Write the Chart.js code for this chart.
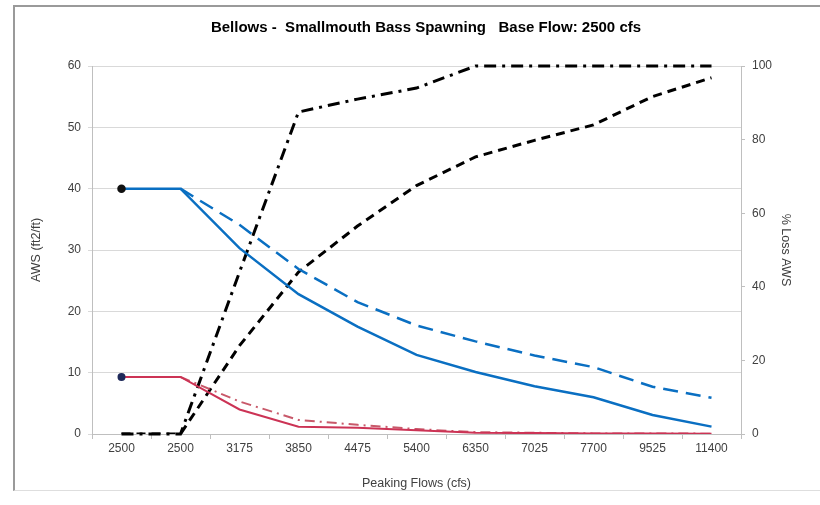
<!DOCTYPE html>
<html>
<head>
<meta charset="utf-8">
<script src="https://cdn.jsdelivr.net/npm/chart.js@4"></script>
<style>
  body { margin: 0; background: #fff; }
  #wrap { position: relative; width: 820px; height: 505px; overflow: hidden; }
  #frame { position: absolute; left: 13px; top: 5px; width: 900px; height: 483px;
           border-top: 2px solid #9a9a9a; border-left: 2px solid #9a9a9a; border-bottom: 1px solid #dedede; }
  canvas { position: absolute; left: 0; top: 0; }
</style>
</head>
<body>
<div id="wrap">
  <div id="frame"></div>
  <canvas id="grafico" width="820" height="505"></canvas>
</div>
<script>
// Categorias do eixo x (vazões de pico)
var categorias = ["2500", "2500", "3175", "3850", "4475", "5400", "6350", "7025", "7700", "9525", "11400"];

// AWS (ft2/ft) - eixo esquerdo
var awsAzul = [40, 40, 30.3, 22.8, 17.5, 12.9, 10.1, 7.8, 6.0, 3.1, 1.2];
var awsAzulTracejado = [null, 40, 34.1, 26.9, 21.5, 17.7, 15.1, 12.8, 10.9, 7.7, 5.9];
var awsVermelho = [9.3, 9.3, 4.0, 1.2, 1.0, 0.6, 0.2, 0.15, 0.1, 0.1, 0.05];
var awsVermelhoTracoPonto = [null, 9.3, 5.3, 2.3, 1.5, 0.8, 0.3, 0.2, 0.1, 0.1, 0.05];

// % Loss AWS - eixo direito
var perdaTracejado = [0, 0, 24, 44, 56.5, 67.5, 75.3, 79.8, 84, 91.7, 96.8];
var perdaTracoPonto = [0, 0, 44, 87.5, 91, 94, 100, 100, 100, 100, 100];

var fonte = "'Liberation Sans', Arial, sans-serif";
var corTicks = "#404040";

function marcadorInicial(n) {
  var r = [];
  for (var i = 0; i < n; i++) r.push(i === 0 ? 3 : 0);
  return r;
}

var ctx = document.getElementById("grafico").getContext("2d");

new Chart(ctx, {
  type: "line",
  data: {
    labels: categorias,
    datasets: [
      {
        label: "AWS",
        data: awsAzul,
        yAxisID: "y",
        borderColor: "#0a6fc2",
        borderWidth: 2.5,
        tension: 0,
        pointRadius: marcadorInicial(awsAzul.length),
        pointBackgroundColor: "#111",
        pointBorderColor: "#111",
      },
      {
        label: "AWS 2",
        data: awsAzulTracejado,
        yAxisID: "y",
        borderColor: "#0a6fc2",
        borderWidth: 2.5,
        borderDash: [15, 8],
        tension: 0,
        pointRadius: 0,
      },
      {
        label: "AWS red",
        data: awsVermelho,
        yAxisID: "y",
        borderColor: "#cc3355",
        borderWidth: 2,
        tension: 0,
        pointRadius: marcadorInicial(awsVermelho.length),
        pointBackgroundColor: "#1f2a5a",
        pointBorderColor: "#1f2a5a",
      },
      {
        label: "AWS red 2",
        data: awsVermelhoTracoPonto,
        yAxisID: "y",
        borderColor: "rgba(190,60,80,0.85)",
        borderWidth: 2,
        borderDash: [10, 5, 2, 5],
        tension: 0,
        pointRadius: 0,
      },
      {
        label: "% Loss",
        data: perdaTracejado,
        yAxisID: "y1",
        borderColor: "#000",
        borderWidth: 3,
        borderDash: [9, 6],
        tension: 0,
        pointRadius: 0,
      },
      {
        label: "% Loss 2",
        data: perdaTracoPonto,
        yAxisID: "y1",
        borderColor: "#000",
        borderWidth: 3,
        borderDash: [12, 6, 3, 6],
        tension: 0,
        pointRadius: 0,
        clip: false,
      },
    ],
  },
  options: {
    responsive: false,
    animation: false,
    events: [],
    layout: {
      padding: { left: 14, right: -18, top: 5, bottom: 0 },
    },
    plugins: {
      legend: { display: false },
      tooltip: { enabled: false },
      title: {
        display: true,
        text: "Bellows -  Smallmouth Bass Spawning   Base Flow: 2500 cfs",
        color: "#000",
        font: { family: fonte, size: 15, weight: "bold", lineHeight: 1.2 },
        padding: { top: 14, bottom: 29 },
      },
    },
    scales: {
      x: {
        type: "category",
        offset: true,
        grid: { offset: true, drawOnChartArea: false, tickLength: 5, color: "#bfbfbf" },
        border: { color: "#bfbfbf" },
        ticks: { color: corTicks, font: { family: fonte, size: 12 }, padding: 2, maxRotation: 0, autoSkip: false },
        title: {
          display: true,
          text: "Peaking Flows (cfs)",
          color: "#404040",
          font: { family: fonte, size: 12.5, lineHeight: 1.2 },
          padding: { top: 0, bottom: 13.5 },
        },
        afterFit: function (scale) { scale.height = 71; },
      },
      y: {
        position: "left",
        min: 0,
        max: 60,
        ticks: { stepSize: 10, color: corTicks, font: { family: fonte, size: 12 }, padding: 7 },
        grid: { color: "#d9d9d9", tickLength: 4 },
        border: { color: "#bfbfbf" },
        title: {
          display: true,
          text: "AWS (ft2/ft)",
          color: "#404040",
          font: { family: fonte, size: 12.5, lineHeight: 1.2 },
          padding: { top: 15.5, bottom: 0 },
        },
        afterFit: function (scale) { scale.width = 78; },
      },
      y1: {
        position: "right",
        min: 0,
        max: 100,
        ticks: { stepSize: 20, color: corTicks, font: { family: fonte, size: 12 }, padding: 7 },
        grid: { drawOnChartArea: false, color: "#bfbfbf", tickLength: 4 },
        border: { color: "#bfbfbf" },
        title: {
          display: true,
          text: "% Loss AWS",
          color: "#404040",
          font: { family: fonte, size: 12.5, lineHeight: 1.2 },
          padding: { top: 45.5, bottom: 0 },
        },
        afterFit: function (scale) { scale.width = 97; },
      },
    },
  },
});
</script>
</body>
</html>
